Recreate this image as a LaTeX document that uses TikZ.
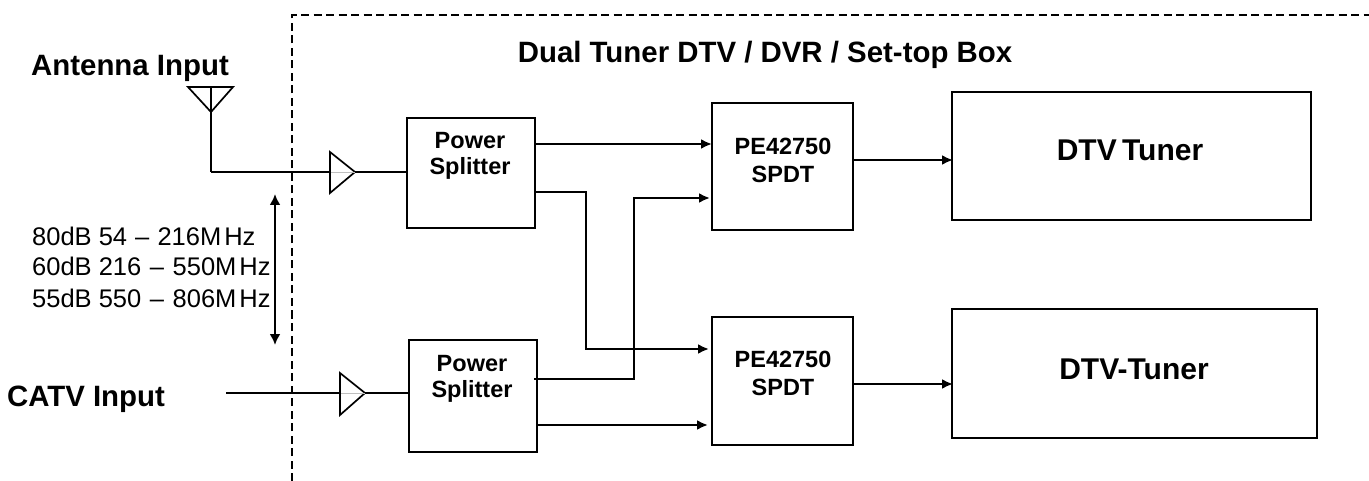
\documentclass[tikz,border=0pt]{standalone}
\usepackage{fontspec}
\setmainfont{Liberation Sans}
\usetikzlibrary{arrows.meta}
\tikzset{
  x=1pt,y=-1pt,
  blockbox/.style={draw,line width=1.7pt,anchor=north west,inner sep=0pt},
  inbox/.style={inner sep=0pt,align=center,font=\bfseries\fontsize{23.5}{26}\selectfont},
  swtext/.style={inner sep=0pt,align=center,font=\bfseries\fontsize{23.5}{28}\selectfont},
  tunertext/.style={inner sep=0pt,font=\bfseries\fontsize{30}{34}\selectfont},
  wire/.style={line width=2.3pt},
  arrowwire/.style={wire,-{Latex[length=11pt,width=10pt]}},
  dbl/.style={wire,{Latex[length=11pt,width=11pt]}-{Latex[length=11pt,width=11pt]}},
  amp/.style={draw,line width=1.7pt,fill=white},
  dashline/.style={line width=1.7pt,dash pattern=on 8pt off 4.5pt},
  lbl/.style={inner sep=0pt,font=\bfseries\fontsize{29.4}{33}\selectfont},
  freq/.style={inner sep=0pt,anchor=west,font=\fontsize{25.5}{29}\selectfont}
}
\begin{document}
\begin{tikzpicture}
\useasboundingbox (0,0) rectangle (1369,481);
\coordinate (d1) at (292,481); \coordinate (d2) at (292,15); \coordinate (d3) at (1369,15);
\draw[dashline] (d1)--(d2)--(d3);
\node[lbl] (title) at (765,55) {Dual Tuner DTV / DVR / Set-top Box};
\node[lbl] (ant) at (130,68) {Antenna Input};
\node[lbl] (catv) at (86,399) {CATV Input};
\node[freq] (f1) at (32,236) {80dB\ 54\kern1pt\ –\kern1pt\ 216M\kern3pt Hz};
\node[freq] (f2) at (32,266) {60dB\ 216\kern1.5pt\ –\kern1.5pt\ 550M\kern3pt Hz};
\node[freq] (f3) at (32,298) {55dB\ 550\kern1.5pt\ –\kern1.5pt\ 806M\kern3pt Hz};
\node[blockbox,minimum width=128pt,minimum height=110pt] (ps1) at (406,117) {};
\node[inbox] (ps1t) at (470,156) {Power\\Splitter};
\node[blockbox,minimum width=128pt,minimum height=112pt] (ps2) at (408,339) {};
\node[inbox] (ps2t) at (472,379) {Power\\Splitter};
\node[blockbox,minimum width=141pt,minimum height=127pt] (sw1) at (711,102) {};
\node[swtext] (sw1t) at (783,160) {PE42750\\SPDT};
\node[blockbox,minimum width=141pt,minimum height=128pt] (sw2) at (711,316) {};
\node[swtext] (sw2t) at (783,373) {PE42750\\SPDT};
\node[blockbox,minimum width=359pt,minimum height=128pt] (t1) at (951,91) {};
\node[tunertext] (t1t) at (1130,150) {DTV\kern-3pt\ Tuner};
\node[blockbox,minimum width=365pt,minimum height=129pt] (t2) at (951,308) {};
\node[tunertext] (t2t) at (1134,369) {DTV-Tuner};
% antenna
\coordinate (an) at (211,112); \coordinate (aj) at (211,172);
\draw[line width=1.7pt] (188,87)--(233,87)--(an)--cycle (211,87)--(an);
\draw[wire] (an)--(aj);
% amps
\coordinate (a1t) at (330,152); \coordinate (a1b) at (330,193); \coordinate (a1o) at (355,172);
\coordinate (a2t) at (340,373); \coordinate (a2b) at (340,415); \coordinate (a2o) at (365,393);
\coordinate (cin) at (226,393);
\draw[wire] (aj)--(330,172);
\draw[wire] (a1o)--(ps1.west|-a1o);
\draw[wire] (cin)--(340,393);
\draw[wire] (a2o)--(ps2.west|-a2o);
\draw[amp] (a1t)--(a1o)--(a1b)--cycle;
\draw[amp] (a2t)--(a2o)--(a2b)--cycle;
\draw[gray!50,line width=.6pt] (331,172)--(a1o) (341,393)--(a2o);
% links
\coordinate (p1a) at (534,144); \coordinate (s1a) at (712,144);
\draw[arrowwire] (p1a)--(s1a);
\coordinate (p1b) at (534,192); \coordinate (s2a) at (709,349);
\draw[arrowwire] (p1b)--(586,192)--(586,349)--(s2a);
\coordinate (p2a) at (534,379); \coordinate (s1b) at (710,198);
\draw[arrowwire] (p2a)--(634,379)--(634,198)--(s1b);
\coordinate (p2b) at (538,425); \coordinate (s2b) at (708,425);
\draw[arrowwire] (p2b)--(s2b);
\coordinate (s1o) at (852,160); \coordinate (t1i) at (953,160);
\coordinate (s2o) at (852,384); \coordinate (t2i) at (953,384);
\draw[arrowwire] (s1o)--(t1i);
\draw[arrowwire] (s2o)--(t2i);
\coordinate (da) at (275,194); \coordinate (db) at (275,345);
\draw[dbl] (da)--(db);
\end{tikzpicture}
\end{document}
